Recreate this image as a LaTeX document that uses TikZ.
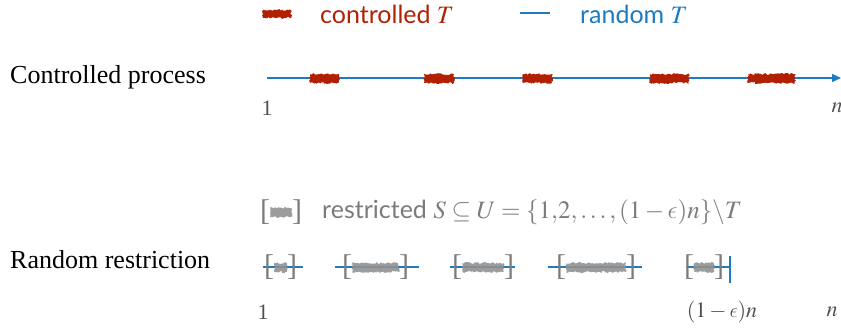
\documentclass[tikz,border=0pt]{standalone}
\usepackage{mathptmx}
\DeclareSymbolFont{cmletters}{OML}{cmm}{m}{it}
\DeclareMathSymbol{\lunateeps}{\mathord}{cmletters}{"0F}
\usepackage{fontspec}
\setmainfont{Liberation Serif}
\newfontfamily\legendfont{Lato}
\usetikzlibrary{decorations.pathmorphing,arrows.meta}

\definecolor{ctrlred}{RGB}{178,32,4}
\definecolor{randblue}{RGB}{28,124,190}
\definecolor{restgray}{RGB}{145,145,145}
\definecolor{brkgray}{RGB}{125,125,125}
\definecolor{numgray}{RGB}{80,80,80}

\begin{document}
\begin{tikzpicture}[x=1pt, y=1pt,
		ctrl/.style={fill=ctrlred, decorate, decoration={random steps, segment length=1.3pt, amplitude=1pt}},
		rest/.style={fill=restgray, opacity=0.9, decorate, decoration={random steps, segment length=1.3pt, amplitude=1pt}},
		axis/.style={draw=randblue, line width=1.4pt},
		brk/.style={inner sep=0pt, text=brkgray, font=\fontsize{30}{34}\selectfont},
		rowlabel/.style={anchor=west, inner sep=0pt, font=\fontsize{26}{30}\selectfont},
		num/.style={inner sep=0pt, text=numgray, font=\fontsize{22}{26}\selectfont},
		legtext/.style={anchor=west, inner sep=0pt, font=\legendfont\fontsize{25}{29}\selectfont}]
	\useasboundingbox (0, 0) rectangle (841, 328);

	% legend
	\fill[ctrl] (263, 310) rectangle (291, 318);
	\draw (320, 314) node[legtext, text=ctrlred] (ctrlleg) {controlled $T$};
	\draw[axis] (520, 315) -- (550, 315);
	\draw (580, 314) node[legtext, text=randblue] (randleg) {random $T$};

	% controlled process
	\draw (10, 251) node[rowlabel] (ctrlrow) {Controlled process};
	\coordinate (start) at (267, 250);
	\coordinate (end) at (841, 250);
	\draw[axis, -{Triangle[length=9pt, width=8pt]}] (start) -- (end);
	\fill[ctrl] (310, 245) rectangle (339, 254);
	\fill[ctrl] (424, 245) rectangle (454, 254);
	\fill[ctrl] (523, 245) rectangle (552, 254);
	\fill[ctrl] (650, 245) rectangle (689, 254);
	\fill[ctrl] (748, 245) rectangle (795, 254);
	\draw (267, 220) node[num] (one) {1};
	\draw (837, 220) node[num] (nn) {$n$};

	% restricted legend
	\draw (265, 116) node[brk] (lleg) {[};
	\draw (297, 116) node[brk] (rleg) {]};
	\fill[rest] ([yshift=-5pt]lleg.east) rectangle ([yshift=4pt]rleg.west);
	\draw (322, 116) node[legtext, text=restgray!85!black] (restleg) {restricted $S \subseteq U = \{1{,}2{,}\ldots,(1-\lunateeps)n\}\backslash T$};

	% random restriction
	\draw (10, 68) node[rowlabel] (randrow) {Random restriction};
	\coordinate (a1) at (263, 61);  \coordinate (b1) at (303, 61);
	\coordinate (a2) at (335, 61);  \coordinate (b2) at (419, 61);
	\coordinate (a3) at (450, 61);  \coordinate (b3) at (515, 61);
	\coordinate (a4) at (548, 61);  \coordinate (b4) at (642, 61);
	\coordinate (a5) at (686, 61);  \coordinate (b5) at (730, 61);
	\draw[axis] (a1) -- (b1);
	\draw[axis] (a2) -- (b2);
	\draw[axis] (a3) -- (b3);
	\draw[axis] (a4) -- (b4);
	\draw[axis] (a5) -- (b5);
	\draw[axis] (730, 72) -- (730, 45);

	\draw (269, 61) node[brk] (l1) {[};
	\draw (292, 61) node[brk] (r1) {]};
	\draw (347, 61) node[brk] (l2) {[};
	\draw (404, 61) node[brk] (r2) {]};
	\draw (457, 61) node[brk] (l3) {[};
	\draw (509, 61) node[brk] (r3) {]};
	\draw (561, 61) node[brk] (l4) {[};
	\draw (631, 61) node[brk] (r4) {]};
	\draw (689, 61) node[brk] (l5) {[};
	\draw (719, 61) node[brk] (r5) {]};
	\fill[rest] ([yshift=-5pt]l1.east) rectangle ([yshift=4pt]r1.west);
	\fill[rest] ([yshift=-5pt]l2.east) rectangle ([yshift=4pt]r2.west);
	\fill[rest] ([yshift=-5pt]l3.east) rectangle ([yshift=4pt]r3.west);
	\fill[rest] ([yshift=-5pt]l4.east) rectangle ([yshift=4pt]r4.west);
	\fill[rest] ([yshift=-5pt]l5.east) rectangle ([yshift=4pt]r5.west);

	\draw (263, 16) node[num] (onebot) {1};
	\draw (722, 16) node[num] (epsn) {$(1-\lunateeps)n$};
	\draw (832, 16) node[num] (nbot) {$n$};
\end{tikzpicture}
\end{document}
